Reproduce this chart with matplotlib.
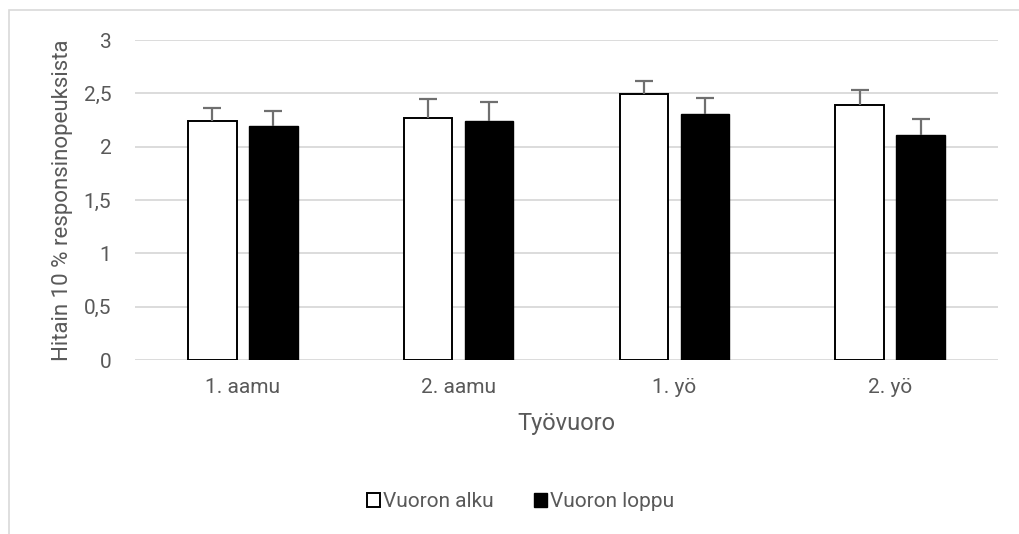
import numpy as np
import matplotlib.pyplot as plt
from matplotlib.patches import Rectangle, Patch

plt.rcParams["font.family"] = ["Roboto", "DejaVu Sans"]

shifts = ["1. aamu", "2. aamu", "1. yö", "2. yö"]
start_vals = [2.24, 2.27, 2.49, 2.39]
start_err = [0.125, 0.18, 0.125, 0.14]
end_vals = [2.195, 2.245, 2.31, 2.11]
end_err = [0.135, 0.17, 0.145, 0.145]
series_labels = ["Vuoron alku", "Vuoron loppu"]

text_col = "#595959"
grid_col = "#d9d9d9"

fig = plt.figure(figsize=(10.19, 5.34), dpi=100)
ax = fig.add_axes([135 / 1019, 174 / 534, 863 / 1019, 320 / 534])

# outer chart border (cropped on the right/bottom in the original)
fig.patches.append(Rectangle((8.5 / 1019, -0.1), 1.2, 1 - 10.5 / 534 + 0.1,
                             transform=fig.transFigure, fill=False,
                             edgecolor=grid_col, linewidth=1.2, zorder=0))

x = np.arange(len(shifts))
w = 0.225
off = 0.141
err_kw = dict(ecolor="#6f6f6f", elinewidth=1.6, capsize=6.5, capthick=1.6)
b1 = ax.bar(x - off, start_vals, w, color="white", edgecolor="black", linewidth=1.4,
            yerr=[np.zeros(4), start_err], error_kw=err_kw, zorder=3)
b2 = ax.bar(x + off, end_vals, w, color="black", edgecolor="black", linewidth=1.0,
            yerr=[np.zeros(4), end_err], error_kw=err_kw, zorder=3)
# only the upper half of the error bar is shown, hide the lower caps
for b in (b1, b2):
    caps = b.errorbar.lines[1]
    caps[0].set_visible(False)

ax.set_xlim(-0.5, len(shifts) - 0.5)
ax.set_ylim(0, 3)
ax.set_yticks(np.arange(0, 3.01, 0.5))
ax.set_yticklabels(["0", "0,5", "1", "1,5", "2", "2,5", "3"])
ax.set_xticks(x)
ax.set_xticklabels(shifts)
ax.yaxis.grid(True, color=grid_col, linewidth=1.3, zorder=0)
ax.set_axisbelow(True)
for s in ax.spines.values():
    s.set_visible(False)
ax.tick_params(length=0, labelsize=15, labelcolor=text_col)
ax.tick_params(axis="y", pad=17)
ax.tick_params(axis="x", pad=13)

ax.set_xlabel("Työvuoro", fontsize=17, color=text_col, labelpad=11)
ax.set_ylabel("Hitain 10 % responsinopeuksista", fontsize=16, color=text_col,
              labelpad=8)

handles = [Patch(facecolor="white", edgecolor="black", linewidth=1.4),
           Patch(facecolor="black", edgecolor="black")]
leg = fig.legend(handles, series_labels, loc="center", bbox_to_anchor=(0.511, 0.06),
                 ncol=2, frameon=False, handlelength=0.65, handleheight=0.65,
                 handletextpad=0.15, columnspacing=1.9, fontsize=15)
for t in leg.get_texts():
    t.set_color(text_col)

fig.savefig("out.png", dpi=100)
